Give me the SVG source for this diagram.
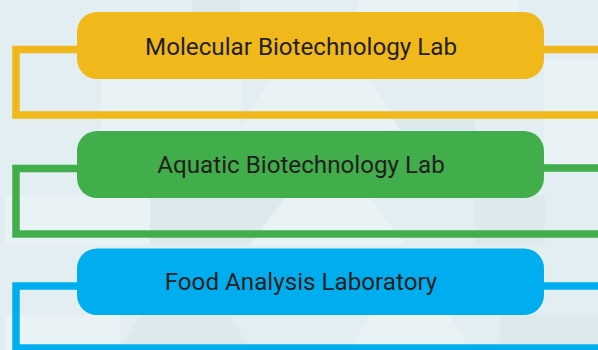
<svg xmlns="http://www.w3.org/2000/svg" width="598" height="350" viewBox="0 0 598 350">
  <defs>
    <style>
      .bg { fill: #E2EEF1; }
      .shade { fill: #DCEAEE; }
      .light { fill: #E9F3F5; }
      .box-label { font-family: Roboto, "Liberation Sans", sans-serif; font-size: 24.2px; fill: #231F20; text-anchor: middle; }
      .conn { fill: none; stroke-width: 7.5; stroke-linejoin: miter; stroke-linecap: butt; }
    </style>
  </defs>
  <rect class="bg" x="0" y="0" width="598" height="350"/>
  <g id="background">
    <rect class="light" x="101" y="79" width="140" height="60"/>
    <rect class="shade" x="192" y="0" width="48" height="40"/>
    <rect class="light" x="358" y="0" width="160" height="40"/>
    <rect class="shade" x="385" y="120" width="90" height="20"/>
    <polygon class="light" points="240,130 270,79 370,79 400,130"/>
    <rect class="light" x="5" y="195" width="145" height="50"/>
    <rect class="shade" x="150" y="195" width="140" height="50"/>
    <polygon class="light" points="250,245 285,198 370,198 405,245"/>
    <rect class="shade" x="475" y="195" width="70" height="50"/>
    <rect class="light" x="5" y="315" width="115" height="35"/>
    <polygon class="shade" points="120,350 140,315 230,315 250,350"/>
    <polygon class="light" points="350,350 370,315 450,315 470,350"/>
    <rect class="shade" x="500" y="315" width="98" height="35"/>
    <rect class="light" x="544" y="60" width="54" height="110"/>
  </g>
  <g id="connectors">
    <path class="conn" stroke="#F1B81B" d="M78,49.5 H16 V115 H598 M543,49.5 H598"/>
    <path class="conn" stroke="#41AD4B" d="M78,168.5 H16 V234 H598 M543,168 H598"/>
    <path class="conn" stroke="#00AEEF" d="M78,286 H16 V352 M16,348 H598 M543,286 H598"/>
  </g>
  <g id="node-molecular">
    <rect x="77" y="12" width="467" height="67" rx="20" ry="20" fill="#F1B81B"/>
    <text class="box-label" x="301" y="55">Molecular Biotechnology Lab</text>
  </g>
  <g id="node-aquatic">
    <rect x="77" y="131" width="467" height="67" rx="20" ry="20" fill="#41AD4B"/>
    <text class="box-label" x="301" y="173">Aquatic Biotechnology Lab</text>
  </g>
  <g id="node-food">
    <rect x="77" y="248.5" width="467" height="66.5" rx="20" ry="20" fill="#00AEEF"/>
    <text class="box-label" x="301" y="290">Food Analysis Laboratory</text>
  </g>
</svg>
